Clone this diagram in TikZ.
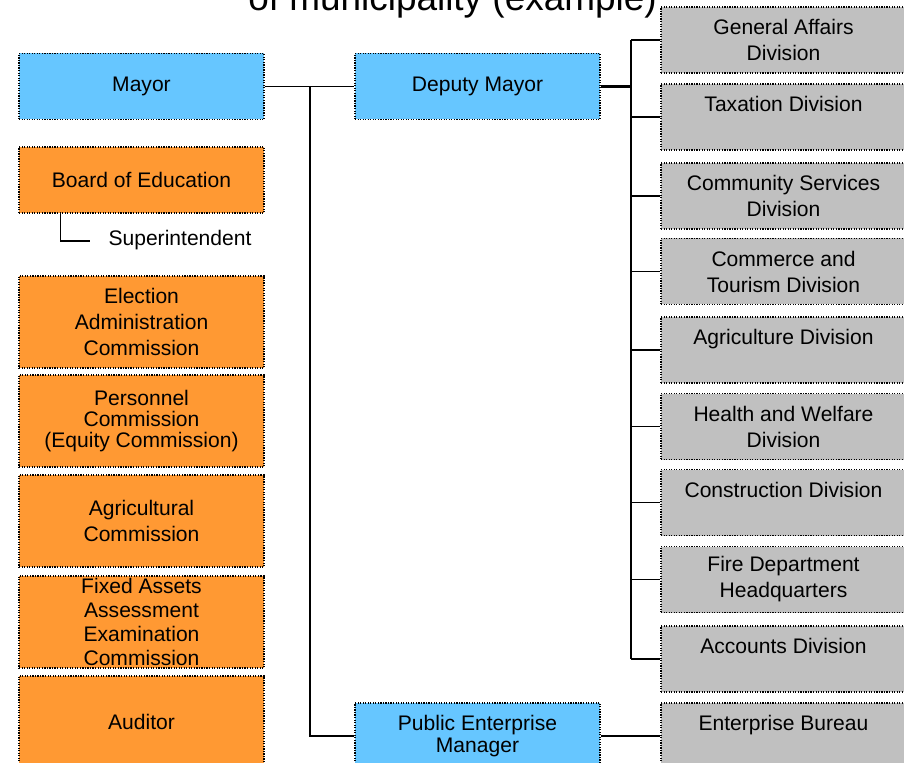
\documentclass[tikz,border=0pt]{standalone}
\usepackage{fontspec}
\setmainfont{Liberation Sans}
\definecolor{skyblue}{HTML}{66C6FF}
\definecolor{boardorange}{HTML}{FF9933}
\definecolor{divgray}{HTML}{C0C0C0}

\begin{document}
\begin{tikzpicture}[x=0.75pt,y=-0.75pt,
		font=\fontsize{15.8}{19.5}\selectfont,
		box/.style={draw,densely dotted,line width=0.9pt,inner sep=0pt,align=center,
				minimum width=183.75pt,minimum height=49.5pt},
		bluebox/.style={box,fill=skyblue},
		orangebox/.style={box,fill=boardorange,minimum height=69pt},
		graybox/.style={box,fill=divgray},
		conn/.style={line width=1pt},
		thickconn/.style={line width=2.2pt}]
		\useasboundingbox (0,0) rectangle (904,763);
		\clip (0,0) rectangle (904,763);

		% Title
		\node[anchor=base west,inner sep=0pt,font=\fontsize{27.7}{30}\selectfont] (title) at (248,11) {of municipality (example)};

		% Mayor and deputies
		\node[bluebox] (mayor) at (141.5,86.5) {Mayor};
		\node[bluebox] (dep) at (477.5,86.5) {Deputy Mayor};
		\node[bluebox,font=\fontsize{15.8}{16.5}\selectfont] (pem) at (477.5,736) {Public Enterprise\\Manager};

		% Commissions
		\node[orangebox,minimum height=49.5pt] (board) at (141.5,180) {Board of Education};
		\node (supt) at (180,240) {Superintendent};
		\node[orangebox] (elec) at (141.5,322) {Election\\Administration\\Commission};
		\node[orangebox,font=\fontsize{15.8}{16}\selectfont] (pers) at (141.5,421) {Personnel\\Commission\\(Equity Commission)};
		\node[orangebox] (agri) at (141.5,521) {Agricultural\\Commission};
		\node[orangebox,font=\fontsize{15.8}{18}\selectfont] (fixed) at (141.5,622) {Fixed Assets\\Assessment\\Examination\\Commission};
		\node[orangebox] (audit) at (141.5,722) {Auditor};

		% Divisions
		\coordinate (trunk) at (631,0);
		\coordinate (ltrunk) at (310,0);
		\coordinate (supend) at (90,241);
		\foreach \y/\name/\txt in {40/gen/{General Affairs\\Division},
				117/tax/{Taxation Division\\\mbox{}},
				196/comm/{Community Services\\Division},
				271.5/tour/{Commerce and\\Tourism Division},
				350/agdiv/{Agriculture Division\\\mbox{}},
				426.5/health/{Health and Welfare\\Division},
				502.5/cons/{Construction Division\\\mbox{}},
				579.5/fire/{Fire Department\\Headquarters},
				659/acc/{Accounts Division\\\mbox{}},
				736/ent/{Enterprise Bureau\\\mbox{}}} {
				\node[graybox] (\name) at (783.5,\y) {\txt};
			}

		% Connecting lines
		\draw[conn] (board.south west) ++(42,0) |- (supend);
		\draw[conn] (mayor.east) -- (dep.west);
		\draw[conn] (mayor.east -| ltrunk) |- (pem.west);
		\draw[thickconn] (pem.east) -- (ent.west);
		\draw[conn] (gen.west -| trunk) -- (dep.east -| trunk);
		\draw[thickconn] (dep.east) -- (dep.east -| trunk) -- (acc.west -| trunk);
		\foreach \name in {gen,tax,comm,tour,agdiv,health,cons,fire,acc} {
				\draw[conn] (\name.west) -- (\name.west -| trunk);
			}
	\end{tikzpicture}
\end{document}
